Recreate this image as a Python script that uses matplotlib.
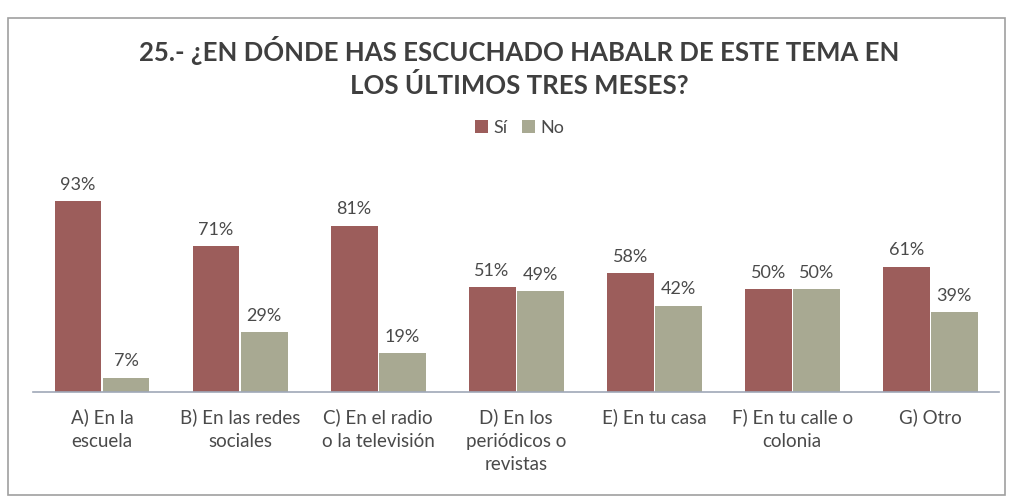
import matplotlib
matplotlib.use("Agg")
import matplotlib.pyplot as plt
import numpy as np
from matplotlib.patches import Rectangle

categories = ["A) En la\nescuela", "B) En las redes\nsociales", "C) En el radio\no la televisión",
              "D) En los\nperiódicos o\nrevistas", "E) En tu casa", "F) En tu calle o\ncolonia", "G) Otro"]
si = [93, 71, 81, 51, 58, 50, 61]
no = [7, 29, 19, 49, 42, 50, 39]
series_names = ["Sí", "No"]

plt.rcParams['font.family'] = ['Lato', 'DejaVu Sans']
c_si = "#9c5d5b"
c_no = "#a8a992"
txt = "#4a4a4a"

fig = plt.figure(figsize=(10.15, 5.01), dpi=100)
ax = fig.add_axes([0.0325, 0.2176, 0.952, 0.41])

x = np.arange(len(categories))
w = 0.34
b1 = ax.bar(x - w/2 - 0.004, si, w, color=c_si, label=series_names[0])
b2 = ax.bar(x + w/2 + 0.004, no, w, color=c_no, label=series_names[1])
for bars, vals in ((b1, si), (b2, no)):
    for r, v in zip(bars, vals):
        ax.text(r.get_x() + r.get_width()/2, v + 4, f"{v}%", ha="center", va="bottom",
                fontsize=13, color=txt)

ax.set_xlim(-0.5, len(categories) - 0.5)
ax.set_ylim(0, 100)
for s in ("top", "right", "left"):
    ax.spines[s].set_visible(False)
ax.spines["bottom"].set_color("#9fa8b8")
ax.spines["bottom"].set_linewidth(1.2)
ax.set_yticks([])
ax.set_xticks(x)
ax.set_xticklabels(categories, fontsize=13.5, color=txt, linespacing=1.45, va="top")
ax.tick_params(axis="x", length=0, pad=12)

fig.text(0.512, 0.866, "25.- ¿EN DÓNDE HAS ESCUCHADO HABALR DE ESTE TEMA EN\nLOS ÚLTIMOS TRES MESES?",
         ha="center", va="center", fontsize=18.5, fontweight="bold", color="#3f3f3f", linespacing=1.4)

leg = fig.legend(handles=[b1, b2], labels=series_names, loc="center", bbox_to_anchor=(0.512, 0.745),
                 ncol=2, frameon=False, fontsize=13, handlelength=0.7, handleheight=0.7,
                 handletextpad=0.3, columnspacing=0.8)
for t in leg.get_texts():
    t.set_color(txt)

fig.patches.append(Rectangle((0.008, 0.012), 0.982, 0.952, transform=fig.transFigure,
                             fill=False, edgecolor="#a0a0a0", linewidth=1.2))

fig.savefig("out.png", dpi=100, facecolor="white")
